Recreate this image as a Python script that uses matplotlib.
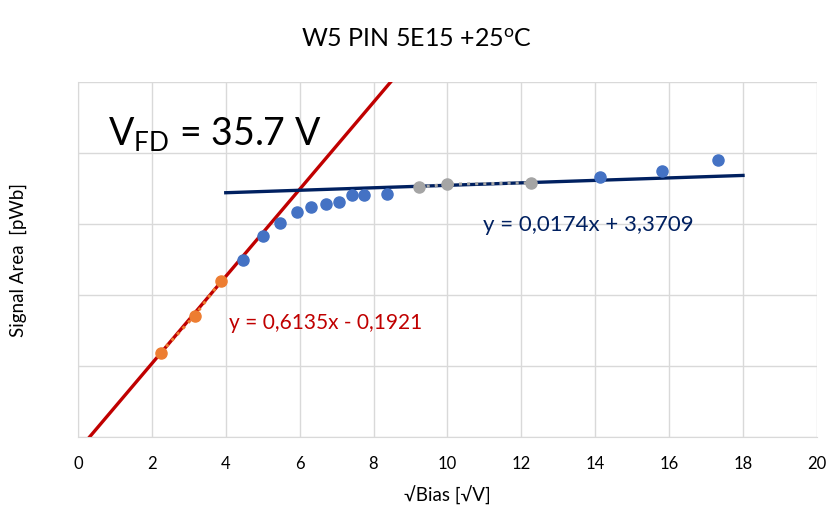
import numpy as np
import matplotlib
matplotlib.use("Agg")
import matplotlib.pyplot as plt

plt.rcParams['font.family'] = ['Lato', 'DejaVu Sans']
plt.rcParams['mathtext.fontset'] = 'custom'
plt.rcParams['mathtext.rm'] = 'Lato'

# points (x = sqrt(bias), y = signal area)
x_low = [2.24, 3.16, 3.87]
y_low = [1.19, 1.71, 2.20]

x_mid = [4.47, 5.00, 5.48, 5.92, 6.32, 6.71, 7.07, 7.42, 7.75, 8.37]
y_mid = [2.50, 2.83, 3.02, 3.17, 3.24, 3.28, 3.31, 3.41, 3.41, 3.42]

x_plat = [9.22, 10.0, 12.25]
y_plat = [3.52, 3.56, 3.58]

x_high = [14.14, 15.81, 17.32]
y_high = [3.66, 3.74, 3.90]

# linear fits shown on the chart
rise_fit = (0.6135, -0.1921)
plat_fit = (0.0174, 3.3709)
rise_range = (0.0, 9.0)
plat_range = (4.0, 18.0)

blue = '#4472C4'
orange = '#ED7D31'
gray = '#A5A5A5'
red = '#C00000'
navy = '#002060'

fig = plt.figure(figsize=(8.34, 5.26), dpi=100)
ax = fig.add_axes([0.0935, 0.1692, 0.886, 0.6749])

xr = np.array(rise_range)
ax.plot(xr, rise_fit[0] * xr + rise_fit[1], color=red, lw=2.4, zorder=2)
xp = np.array(plat_range)
ax.plot(xp, plat_fit[0] * xp + plat_fit[1], color=navy, lw=2.4, zorder=2)

ax.plot(x_low, y_low, ':', color=orange, lw=2.2, marker='o', ms=8, zorder=3)
ax.plot(x_plat, y_plat, ':', color=gray, lw=2.2, marker='o', ms=8, zorder=3)
ax.plot(x_mid, y_mid, 'o', color=blue, ms=8, zorder=3)
ax.plot(x_high, y_high, 'o', color=blue, ms=8, zorder=3)

ax.set_xlim(0, 20)
ax.set_ylim(0, 5)
ax.set_xticks(np.arange(0, 21, 2))
ax.set_yticks(np.arange(0, 6, 1))
ax.set_yticklabels([])
ax.tick_params(length=0, labelsize=12, pad=14)
ax.grid(True, color='#D9D9D9', lw=1)
ax.set_axisbelow(True)
for s in ['top', 'right']:
    ax.spines[s].set_visible(False)
for s in ['left', 'bottom']:
    ax.spines[s].set_color('#D9D9D9')

ax.set_xlabel('√Bias [√V]', fontsize=13.5, labelpad=10)
ax.set_ylabel('Signal Area  [pWb]', fontsize=13.5)
ax.yaxis.set_label_coords(-0.069, 0.5)
fig.text(0.5, 0.924, 'W5 PIN 5E15 +25$^\\mathrm{o}$C', fontsize=18,
         ha='center', va='center')

ax.text(0.8, 4.1, 'V$_\\mathrm{FD}$ = 35.7 V', fontsize=27)
ax.text(4.1, 1.52, 'y = 0,6135x - 0,1921', color=red, fontsize=15)
ax.text(10.95, 2.9, 'y = 0,0174x + 3,3709', color=navy, fontsize=16)

fig.savefig('out.png', dpi=100)
